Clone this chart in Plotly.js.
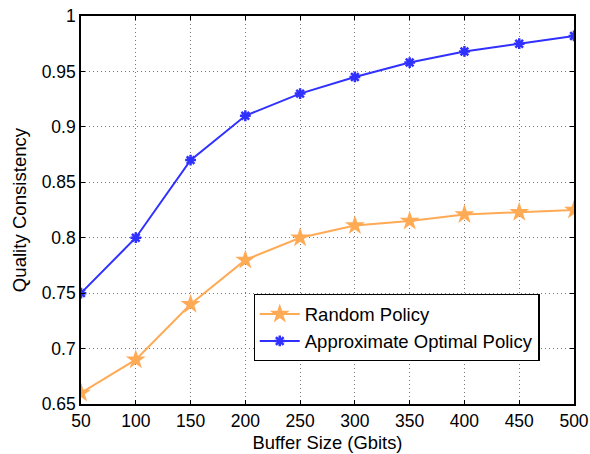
<!DOCTYPE html>
<html>
<head>
<meta charset="utf-8">
<script src="https://cdn.plot.ly/plotly-3.0.1.min.js"></script>
<style>html,body{margin:0;padding:0;background:#fff;}#chart{width:590px;height:454px;}</style>
</head>
<body>
<div id="chart"></div>
<script>
const bufferSizes = [50, 100, 150, 200, 250, 300, 350, 400, 450, 500];
const randomPolicy = [0.66, 0.69, 0.74, 0.78, 0.80, 0.811, 0.815, 0.821, 0.823, 0.825];
const optimalPolicy = [0.75, 0.80, 0.87, 0.91, 0.93, 0.945, 0.958, 0.968, 0.975, 0.982];
const xTickVals = [50, 100, 150, 200, 250, 300, 350, 400, 450, 500];
const yTickVals = [0.65, 0.7, 0.75, 0.8, 0.85, 0.9, 0.95, 1];
const yTickText = ['0.65', '0.7', '0.75', '0.8', '0.85', '0.9', '0.95', '1'];

const font = "'Liberation Sans', Arial, sans-serif";

const traces = [
  {
    x: bufferSizes, y: randomPolicy, name: 'Random Policy',
    mode: 'lines+markers', type: 'scatter',
    line: {color: '#FFAA55', width: 2},
    marker: {symbol: 'star', size: 15, color: '#FFAA55'}
  },
  {
    x: bufferSizes, y: optimalPolicy, name: 'Approximate Optimal Policy',
    mode: 'lines+markers', type: 'scatter',
    line: {color: '#3030FF', width: 2},
    marker: {symbol: 'asterisk-open', size: 9, color: '#3030FF', line: {color: '#3030FF', width: 2.5}}
  }
];

const axisCommon = {
  showline: true, linecolor: '#000', linewidth: 1.8, mirror: 'ticks',
  ticks: 'inside', ticklen: 4, tickcolor: '#000', tickwidth: 1,
  showgrid: true, gridcolor: '#777', griddash: '1px,3px', gridwidth: 1,
  zeroline: false, tickfont: {family: font, size: 17.5, color: '#000'}
};

const layout = {
  width: 590, height: 454,
  margin: {l: 81, r: 16, t: 16, b: 50},
  paper_bgcolor: '#fff', plot_bgcolor: '#fff',
  showlegend: true,
  xaxis: Object.assign({}, axisCommon, {
    range: [50, 500], tickvals: xTickVals,
    title: {text: 'Buffer Size (Gbits)', font: {family: font, size: 18.4, color: '#000'}, standoff: 6}
  }),
  yaxis: Object.assign({}, axisCommon, {
    range: [0.65, 1], tickvals: yTickVals, ticktext: yTickText,
    title: {text: 'Quality Consistency', font: {family: font, size: 18.6, color: '#000'}, standoff: 10}
  }),
  legend: {
    x: 0.35, y: 0.283, xanchor: 'left', yanchor: 'top',
    bgcolor: '#fff', bordercolor: '#000', borderwidth: 1.2,
    font: {family: font, size: 18.5, color: '#000'},
    tracegroupgap: 0, itemwidth: 40
  }
};

Plotly.newPlot('chart', traces, layout, {displayModeBar: false, staticPlot: true});
</script>
</body>
</html>
